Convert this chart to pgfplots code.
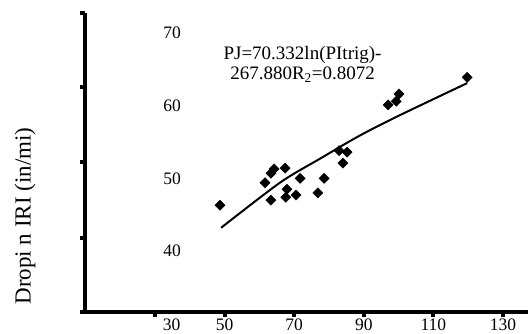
\documentclass[border=0pt]{standalone}
\usepackage{fontspec}
\setmainfont{Liberation Serif}
\usepackage{pgfplots}
\pgfplotsset{compat=1.18}
\begin{document}
\begin{tikzpicture}
\useasboundingbox (0,0) rectangle (528bp,334bp);
\begin{axis}[
  at={(85bp,22bp)}, anchor=south west,
  scale only axis, width=443bp, height=299bp,
  xmin=9.885, xmax=137.18, ymin=31.61, ymax=72.75,
  axis x line=bottom, axis y line=left,
  axis line style={-, line width=3bp, black},
  xtick={30,50,70,90,110,130},
  xticklabels={\hspace*{33bp}30,50,70,90,110,130},
  xticklabel style={inner ysep=0.5bp, yshift=-1bp},
  ytick={31.61,41.79,52.25,62.57,72.75},
  yticklabels={},
  extra y ticks={40,50,60,70},
  extra y tick labels={40,50,60,70},
  extra y tick style={major tick length=0pt, tick label style={anchor=center, xshift=87bp}},
  tick align=outside,
  major tick length=5bp,
  tick style={line width=4bp, black},
  ticklabel style={font=\fontsize{17.5bp}{20bp}\selectfont},
  /pgf/number format/assume math mode=true,
  ylabel={Dropi n IRI (in/mi)},
  ylabel style={at={(axis description cs:-0.1354,0.321)}, anchor=center, font=\fontsize{23bp}{26bp}\selectfont},
  clip=false,
]
\addplot[only marks, mark=square*, mark size=3.6bp, mark options={rotate=45, fill=black, draw=black}] coordinates {
(48.7,46.3) (61.6,49.4) (63.3,50.7) (64.2,51.3) (67.4,51.4) (71.7,50.0)
(63.3,47.0) (67.9,48.5) (67.6,47.4) (70.5,47.7) (76.8,48.0) (78.6,50.0)
(84.0,52.1) (82.9,53.8) (85.2,53.6) (97.0,60.1) (99.3,60.6) (100.1,61.6)
(119.7,63.9)
};
\addplot[line width=2bp, black, smooth] coordinates {
(49.0,43.2) (65.9,49.4) (77.4,52.7) (88.9,55.9) (100.4,58.7) (119.7,63.1)
};
\node[align=center, font=\fontsize{19bp}{20bp}\selectfont] at (axis cs:72.4,65.7) {PJ=70.332ln(PItrig)-\\267.880R\textsubscript{2}=0.8072};
\end{axis}
\end{tikzpicture}
\end{document}
